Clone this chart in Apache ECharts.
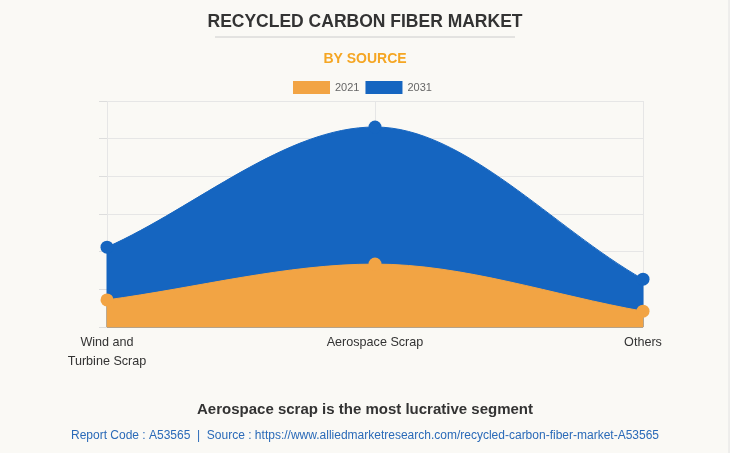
<!DOCTYPE html>
<html><head><meta charset="utf-8">
<script src="https://cdn.jsdelivr.net/npm/echarts@6/dist/echarts.min.js"></script>
<style>html,body{margin:0;padding:0;background:#faf9f5;}#c{width:730px;height:453px;}</style>
</head><body><div id="c"></div>
<script>
const categories = ['Wind and\nTurbine Scrap', 'Aerospace Scrap', 'Others'];
const seriesNames = ['2021', '2031'];
const values2021 = [0.72, 1.67, 0.42];
const values2031 = [2.12, 5.31, 1.27];

const FONT = 'Liberation Sans, Arial, sans-serif';
const BLUE = '#1565c0', ORANGE = '#f2a444';

// monotone cubic area (Chart.js-style) drawn through the axis scales
function monotoneArea(values, color) {
  return function (params, api) {
    if (params.dataIndex !== 0) return null;
    const pts = values.map((v, i) => api.coord([i, v]));
    const base = api.coord([0, 0])[1];
    const n = pts.length;
    const d = [], m = [];
    for (let i = 0; i < n - 1; i++) {
      const h = pts[i + 1][0] - pts[i][0];
      d.push(h ? (pts[i + 1][1] - pts[i][1]) / h : 0);
    }
    for (let i = 0; i < n; i++) {
      if (i === 0) m.push(d[0]);
      else if (i === n - 1) m.push(d[n - 2]);
      else if (Math.sign(d[i - 1]) !== Math.sign(d[i]) || d[i - 1] === 0 || d[i] === 0) m.push(0);
      else m.push((d[i - 1] + d[i]) / 2);
    }
    let path = 'M' + pts[0][0] + ' ' + base + ' L' + pts[0][0] + ' ' + pts[0][1];
    for (let i = 0; i < n - 1; i++) {
      const h = pts[i + 1][0] - pts[i][0];
      const c1x = pts[i][0] + h / 3, c1y = pts[i][1] + m[i] * h / 3;
      const c2x = pts[i + 1][0] - h / 3, c2y = pts[i + 1][1] - m[i + 1] * h / 3;
      path += ' C' + c1x + ' ' + c1y + ' ' + c2x + ' ' + c2y + ' ' + pts[i + 1][0] + ' ' + pts[i + 1][1];
    }
    path += ' L' + pts[n - 1][0] + ' ' + base + ' Z';
    return {type: 'path', shape: {pathData: path}, style: {fill: color, stroke: color, lineWidth: 1}};
  };
}

const chart = echarts.init(document.getElementById('c'));
chart.setOption({
  backgroundColor: '#faf9f5',
  textStyle: {fontFamily: FONT},
  title: [
    {text: 'RECYCLED CARBON FIBER MARKET', left: 'center', top: 8,
     textStyle: {fontSize: 17.5, fontWeight: 'bold', color: '#333', fontFamily: FONT}},
    {text: 'BY SOURCE', left: 'center', top: 47,
     textStyle: {fontSize: 14, fontWeight: 'bold', color: '#f5a623', fontFamily: FONT}},
    {text: 'Aerospace scrap is the most lucrative segment', left: 'center', top: 397,
     textStyle: {fontSize: 15, fontWeight: 'bold', color: '#333', fontFamily: FONT}},
    {text: 'Report Code : A53565  |  Source : https://www.alliedmarketresearch.com/recycled-carbon-fiber-market-A53565', left: 'center', top: 425,
     textStyle: {fontSize: 12, fontWeight: 'normal', color: '#2a6ab8', fontFamily: FONT}}
  ],
  graphic: [
    {type: 'line', shape: {x1: 215, y1: 37, x2: 515, y2: 37}, style: {stroke: '#ccc', lineWidth: 1}},
    {type: 'line', shape: {x1: 729, y1: 0, x2: 729, y2: 453}, style: {stroke: '#e2e2e2', lineWidth: 1}}
  ],
  legend: {
    data: seriesNames, top: 76, left: 288, icon: 'rect', itemWidth: 37, itemHeight: 13, itemGap: 6,
    textStyle: {fontSize: 11, color: '#666'}
  },
  grid: {left: 107, right: 87, top: 101, bottom: 126},
  xAxis: {
    type: 'category', data: categories, boundaryGap: false,
    axisLine: {show: true, lineStyle: {color: '#ddd'}},
    axisTick: {show: false},
    splitLine: {show: true, lineStyle: {color: '#e6e6e6'}},
    axisLabel: {fontSize: 12.6, color: '#333', lineHeight: 19, margin: 6}
  },
  yAxis: {
    type: 'value', min: 0, max: 6, interval: 1,
    axisLine: {show: false},
    axisTick: {show: true, length: 8, lineStyle: {color: '#ddd'}},
    axisLabel: {show: false},
    splitLine: {show: true, lineStyle: {color: '#e6e6e6'}}
  },
  series: [
    {name: '2031', type: 'custom', data: values2031, renderItem: monotoneArea(values2031, BLUE),
     z: 1, itemStyle: {color: BLUE}, silent: true},
    {name: '2021', type: 'custom', data: values2021, renderItem: monotoneArea(values2021, ORANGE),
     z: 2, itemStyle: {color: ORANGE}, silent: true},
    {name: '2031', type: 'line', data: values2031, symbol: 'circle', symbolSize: 13,
     z: 3, itemStyle: {color: BLUE}, lineStyle: {width: 0, opacity: 0}},
    {name: '2021', type: 'line', data: values2021, symbol: 'circle', symbolSize: 13,
     z: 4, itemStyle: {color: ORANGE}, lineStyle: {width: 0, opacity: 0}}
  ]
});
</script></body></html>
